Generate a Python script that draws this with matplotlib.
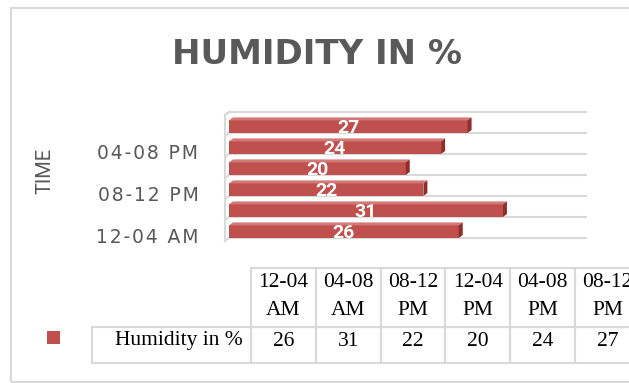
import numpy as np
import matplotlib.pyplot as plt
from matplotlib.patches import Polygon, Rectangle

# humidity per four-hour slot, bottom bar first
slots = ["12-04 AM", "04-08 AM", "08-12 PM", "12-04 PM", "04-08 PM", "08-12 PM"]
table_heads = ["12-04\nAM", "04-08\nAM", "08-12\nPM", "12-04\nPM", "04-08\nPM", "08-12\nPM"]
humidity = [26, 31, 22, 20, 24, 27]
series_name = "Humidity in %"
shown_ticks = [0, 2, 4]   # only every other slot gets a label

RED = '#C0504D'
RED_TOP = '#D27A77'
RED_SIDE = '#8E2F2C'
GRID = '#D9D9D9'
TXT = '#595959'

W, H = 629, 383
fig = plt.figure(figsize=(W / 100, H / 100), dpi=100)


def box(l, t, r, b):
    # pixel box -> figure fraction
    return [l / W, 1 - b / H, (r - l) / W, (b - t) / H]


# outer chart frame
fig.add_artist(Rectangle((11 / W, 1 - 382 / H), (645 - 11) / W, (382 - 8) / H,
                         transform=fig.transFigure, fill=False, ec=GRID, lw=1.5))

fig.text(317 / W, 1 - 55 / H, "HUMIDITY IN %", ha='center', va='center',
         fontsize=24.5, fontweight='bold', color=TXT)

# bar area
ax = fig.add_axes(box(229, 112, 586, 238))
xmax = 40.4
n = len(humidity)
ax.set_xlim(0, xmax)
ax.set_ylim(-0.5, n - 0.5)
px_x = 357 / xmax
dx, dy = 4 / px_x, 3 / 21.0    # depth of the fake 3d faces
bar_h = 0.6

pos = np.arange(n) - 0.5
ax.barh(pos, humidity, height=bar_h, align='edge', color=RED, zorder=3)
for y0, v in zip(pos, humidity):
    top = y0 + bar_h
    ax.add_patch(Polygon([(0, top), (v, top), (v + dx, top + dy), (dx, top + dy)],
                         closed=True, fc=RED_TOP, ec='none', zorder=3, clip_on=False))
    ax.add_patch(Polygon([(v, y0), (v, top), (v + dx, top + dy), (v + dx, y0 + dy)],
                         closed=True, fc=RED_SIDE, ec='none', zorder=3, clip_on=False))
    ax.text(v / 2, y0 + bar_h / 2 - 0.08, str(v), ha='center', va='center',
            color='white', fontsize=14, fontweight='bold', family='Roboto',
            zorder=4, clip_on=True)

# floor lines and the thin side wall
for g in np.arange(n + 1) - 0.5:
    ax.plot([-dx, 0, xmax], [g - dy, g, g], color=GRID, lw=1.5, zorder=1, clip_on=False)
ax.plot([-dx, -dx, 0], [-0.5 - dy, n - 0.5 - dy, n - 0.5], color=GRID, lw=1.5,
        zorder=1, clip_on=False)

ax.set_xticks([])
ax.set_yticks([i - 0.4 for i in shown_ticks])
ax.set_yticklabels(["\u200a".join(slots[i]) for i in shown_ticks])
ax.tick_params(axis='y', length=0, pad=22, labelsize=13.5, labelcolor=TXT)
for s in ax.spines.values():
    s.set_visible(False)

fig.text(45 / W, 1 - 171 / H, "TIME", rotation=90, ha='center', va='center',
         fontsize=14.5, color=TXT, family='Roboto')

# data table under the bars, drawn in pixel units
tax = fig.add_axes(box(92, 268, 640, 363))
tax.set_xlim(92, 640)
tax.set_ylim(363, 268)
tax.axis('off')
col_x0, col_w = 251, 64.8
head_top, head_h, row_h = 268, 59, 36
row_top = head_top + head_h
cell_kw = dict(fill=False, ec=GRID, lw=1.5, clip_on=False)
font_kw = dict(family='Liberation Serif', fontsize=15.5, color='black')
for j, (head, v) in enumerate(zip(table_heads, humidity)):
    x0 = col_x0 + j * col_w
    tax.add_patch(Rectangle((x0, head_top), col_w, head_h, **cell_kw))
    tax.add_patch(Rectangle((x0, row_top), col_w, row_h, **cell_kw))
    tax.text(x0 + col_w / 2, head_top + head_h / 2 - 1, head, ha='center', va='center',
             linespacing=1.6, clip_on=False, **font_kw)
    tax.text(x0 + col_w / 2, row_top + 14, str(v), ha='center', va='center',
             clip_on=False, **font_kw)
tax.add_patch(Rectangle((92, row_top), col_x0 - 92, row_h, **cell_kw))
tax.text(col_x0 - 8, row_top + 14, series_name, ha='right', va='center',
         clip_on=False, **font_kw)

# legend key
fig.add_artist(Rectangle((47 / W, 1 - 344 / H), 13 / W, 13 / H,
                         transform=fig.transFigure, fc=RED, ec='none'))

fig.savefig("out.png", dpi=100)
